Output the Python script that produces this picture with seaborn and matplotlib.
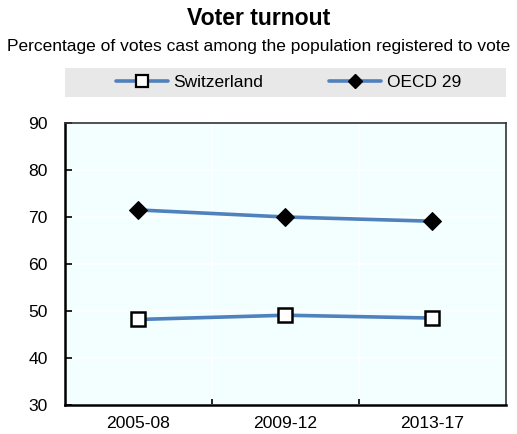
import pandas as pd
import seaborn as sns
import matplotlib.pyplot as plt
from matplotlib.patches import Rectangle
from matplotlib.ticker import FixedLocator

# Data
periods = ["2005-08", "2009-12", "2013-17"]
switzerland = [48.2, 49.1, 48.5]
oecd29 = [71.5, 70.0, 69.1]
series_names = ["Switzerland", "OECD 29"]

df = pd.DataFrame({
    "Period": periods * 2,
    "Turnout": switzerland + oecd29,
    "Series": [series_names[0]] * 3 + [series_names[1]] * 3,
})
df["x"] = list(range(len(periods))) * 2

sns.set_theme(style="white")
plt.rcParams["font.family"] = ["Liberation Sans", "DejaVu Sans"]
plt.rcParams["text.color"] = "black"
plt.rcParams["xtick.color"] = "black"
plt.rcParams["ytick.color"] = "black"

fig = plt.figure(figsize=(5.17, 4.34), dpi=100)
ax = fig.add_axes([0.1257, 0.0668, 0.853, 0.6498])
ax.set_facecolor("#F3FFFF")

line_col = "#4F81BD"
ax = sns.lineplot(
    data=df, x="x", y="Turnout", hue="Series", style="Series",
    palette=[line_col, line_col], markers=["s", "D"], dashes=False,
    linewidth=2.6, ax=ax, legend=False,
)
# marker faces
ax.lines[0].set(marker="s", markersize=9.5, markerfacecolor="white",
                markeredgecolor="black", markeredgewidth=1.8)
ax.lines[1].set(marker="D", markersize=9, markerfacecolor="black",
                markeredgecolor="black")

ax.set_xlim(-0.5, 2.5)
ax.set_ylim(30, 90)
ax.set_yticks(range(30, 91, 10))
ax.set_xticks(range(len(periods)))
ax.set_xticklabels(periods)
ax.xaxis.set_minor_locator(FixedLocator([0.5, 1.5]))
ax.tick_params(axis="x", which="major", length=0, labelsize=12.6, pad=8)
ax.tick_params(axis="x", which="minor", direction="in", length=4,
               width=1.2, color="black", bottom=True)
ax.tick_params(axis="y", direction="in", length=5, width=1.2,
               color="black", left=True, labelsize=12.6, pad=12.5)
ax.grid(True, axis="y", color="white", linewidth=1.2)
ax.grid(True, axis="x", which="minor", color="white", linewidth=1.2)
ax.set_axisbelow(True)
ax.set_xlabel("")
ax.set_ylabel("")

for side in ["left", "bottom"]:
    ax.spines[side].set(color="black", linewidth=1.8)
for side in ["top", "right"]:
    ax.spines[side].set(color="#333333", linewidth=1.2)

# Legend band
fig.patches.append(Rectangle((0.1257, 0.7765), 0.853, 0.0668,
                             transform=fig.transFigure, facecolor="#E8E8E8",
                             edgecolor="none", zorder=0))
handles = [
    plt.Line2D([], [], color=line_col, linewidth=2.6, marker="s",
               markersize=8, markerfacecolor="white", markeredgecolor="black",
               markeredgewidth=1.6),
    plt.Line2D([], [], color=line_col, linewidth=2.6, marker="D",
               markersize=7, markerfacecolor="black", markeredgecolor="black"),
]
fig.legend(handles, series_names, loc="center",
           bbox_to_anchor=(0.558, 0.8099), ncol=2, frameon=False,
           fontsize=12.5, handlelength=3.0, handletextpad=0.3,
           columnspacing=3.8)

fig.text(0.5, 0.958, "Voter turnout", ha="center", va="center",
         fontsize=16.6, fontweight="bold")
fig.text(0.5, 0.892, "Percentage of votes cast among the population registered to vote",
         ha="center", va="center", fontsize=12.5)

fig.savefig("out.png", dpi=100)
